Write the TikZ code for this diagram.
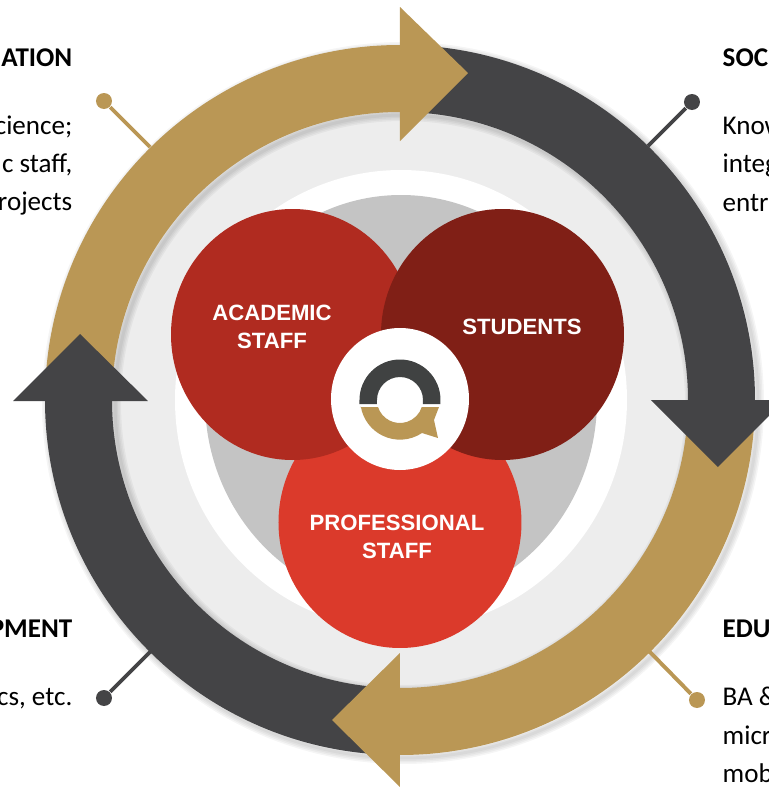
\documentclass[tikz,border=0pt]{standalone}
\usepackage{fontspec}
\usetikzlibrary{shapes.geometric}
\usetikzlibrary{calc}
\setmainfont{Carlito}
\newfontfamily\labelfont{Liberation Sans}
\definecolor{arrowgold}{HTML}{BA9755}
\definecolor{arrowdark}{HTML}{444446}
\definecolor{ringlight}{HTML}{EDEDED}
\definecolor{discgrey}{HTML}{C4C4C4}
\definecolor{redacademic}{HTML}{B02B20}
\definecolor{redstudents}{HTML}{801F16}
\definecolor{redprofessional}{HTML}{DB3A2B}
\definecolor{logodark}{HTML}{404242}
\tikzset{
  staffdisc/.style={ellipse,minimum width=2.43cm,minimum height=2.51cm,inner sep=0pt},
  stafflabel/.style={inner sep=0pt,align=center,text=white,
    font=\labelfont\bfseries\fontsize{6.3pt}{7.9pt}\selectfont},
  pindot/.style={circle,minimum size=0.16cm,inner sep=0pt},
  pinline/.style={line width=1.1pt},
  sidetext/.style={inner sep=0pt,font=\fontsize{7.7pt}{9pt}\selectfont},
  sidehead/.style={sidetext,font=\bfseries\fontsize{7.7pt}{9pt}\selectfont}
}
\begin{document}
\begin{tikzpicture}
    \useasboundingbox (0,0) rectangle (7.69,7.87);
    \coordinate (centre) at (4,3.87);
    % discs behind the ring
    \fill[ringlight] (centre) circle (2.95);
    \fill[white] (4.01,3.87) ellipse (2.26 and 2.30);
    \fill[discgrey] (4.01,3.87) ellipse (1.96 and 2.05);
    % soft edge of the ring
    \foreach \w in {0.03,0.06,0.09,0.12}
    \draw[black,opacity=0.04,line width=\w cm] (4.03,3.84) circle (3.55);
    \foreach \w in {0.03,0.06,0.09,0.12}
    \draw[black,opacity=0.04,line width=\w cm] (4.03,3.84) circle (2.88);
    % ring pieces
    \foreach \a/\col in {179/arrowgold,89/arrowdark,-1/arrowgold,269/arrowdark}
    \fill[\col] ($(centre)+(\a:3.55)$) arc (\a:\a-90:3.55) -- ($(centre)+(\a-90:2.88)$) arc (\a-90:\a:2.88) -- cycle;
    % arrow heads
    \fill[arrowgold] (4,7.80)--(4.68,7.14)--(4,6.46)--cycle;
    \fill[arrowdark] (6.51,3.87)--(7.85,3.87)--(7.18,3.20)--cycle;
    \fill[arrowgold] (4,1.34)--(3.32,0.67)--(4,0)--cycle;
    \fill[arrowdark] (0.13,3.86)--(0.80,4.53)--(1.48,3.86)--cycle;
    % pins
    \node[pindot,fill=arrowgold] (pinA) at (1.04,6.86) {};
    \node[pindot,fill=arrowdark] (pinB) at (6.92,6.85) {};
    \node[pindot,fill=arrowgold] (pinC) at (6.97,0.87) {};
    \node[pindot,fill=arrowdark] (pinD) at (1.04,0.89) {};
    \coordinate (ringA) at (1.50,6.40);
    \coordinate (ringB) at (6.48,6.41);
    \coordinate (ringC) at (6.48,1.37);
    \coordinate (ringD) at (1.52,1.37);
    \draw[arrowgold,pinline] (pinA)--(ringA);
    \draw[arrowdark,pinline] (pinB)--(ringB);
    \draw[arrowgold,pinline] (pinC)--(ringC);
    \draw[arrowdark,pinline] (pinD)--(ringD);
    % staff circles
    \node[staffdisc,fill=redprofessional] (professional) at (4,2.645) {};
    \node[staffdisc,fill=redacademic] (academic) at (2.925,4.525) {};
    \node[staffdisc,fill=redstudents] (students) at (5.025,4.525) {};
    \node[stafflabel] (professionalText) at (3.97,2.50) {PROFESSIONAL\\STAFF};
    \node[stafflabel] (academicText) at (2.72,4.60) {ACADEMIC\\STAFF};
    \node[stafflabel] (studentsText) at (5.22,4.60) {STUDENTS};
    % logo
    \node[ellipse,fill=white,minimum width=1.38cm,minimum height=1.42cm,inner sep=0pt] (logo) at (4,3.88) {};
    \fill[logodark] (3.595,3.83)--(3.595,3.87) arc (180:0:0.405) -- (4.405,3.83) -- (4.23,3.83) -- (4.23,3.87) arc (0:180:0.23) -- (3.77,3.83) -- cycle;
    \fill[arrowgold] (3.60,3.80)--(3.78,3.80) arc (197.7:342.3:0.23) -- (4.39,3.80)--(4.34,3.67)--(4.38,3.49)--(4.22,3.54) arc (-56.3:-170:0.397) -- cycle;
    % side texts, cut by the page edge
    \node[sidehead,anchor=base east] (headA) at (0.73,7.21) {ATION};
    \node[sidetext,anchor=base east] (lineA) at (0.73,6.53) {cience;};
    \node[sidetext,anchor=base east] (lineAb) at (0.73,6.15) {c staff,};
    \node[sidetext,anchor=base east] (lineAc) at (0.73,5.77) {rojects};
    \node[sidehead,anchor=base west] (headB) at (7.22,7.21) {SOC};
    \node[sidetext,anchor=base west] (lineB) at (7.22,6.53) {Know};
    \node[sidetext,anchor=base west] (lineBb) at (7.22,6.15) {integ};
    \node[sidetext,anchor=base west] (lineBc) at (7.22,5.76) {entr};
    \node[sidehead,anchor=base east] (headD) at (0.73,1.49) {PMENT};
    \node[sidetext,anchor=base east] (lineD) at (0.73,0.81) {cs, etc.};
    \node[sidehead,anchor=base west] (headC) at (7.22,1.49) {EDU};
    \node[sidetext,anchor=base west] (lineC) at (7.22,0.81) {BA \&};
    \node[sidetext,anchor=base west] (lineCb) at (7.22,0.42) {micr};
    \node[sidetext,anchor=base west] (lineCc) at (7.22,0.04) {mob};
\end{tikzpicture}
\end{document}
